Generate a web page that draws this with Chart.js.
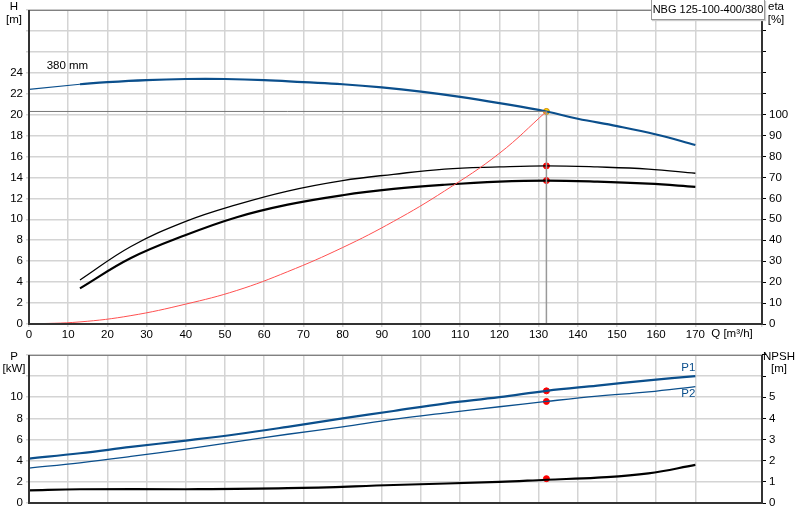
<!DOCTYPE html>
<html><head><meta charset="utf-8">
<script src="https://cdn.jsdelivr.net/npm/chart.js@4/dist/chart.umd.min.js"></script>
<style>
body{margin:0;background:#fff;width:800px;height:520px;overflow:hidden;font-family:"Liberation Sans",Arial,sans-serif}
#c1{position:absolute;left:0;top:0}
#c2{position:absolute;left:0;top:345px}
#tb{position:absolute;left:651px;top:0;width:112px;height:19px;border:1px solid #999;border-top:none;background:#fff;font-size:11px;line-height:19px;text-align:center;white-space:nowrap;box-shadow:1px 1px 1px #ccc}
</style></head><body>
<canvas id="c1" width="800" height="345"></canvas>
<canvas id="c2" width="800" height="175"></canvas>
<div id="tb">NBG 125-100-400/380</div>
<script>
const qH = [0,13,20,30,40,50,60,70,80,90,100,110,120,132,140,150,160,170];
const hVals = [22.4,22.9,23.1,23.3,23.4,23.4,23.3,23.1,22.9,22.6,22.2,21.7,21.1,20.3,19.6,18.9,18.1,17.1];
const qEta = [13,26,40,53,66,80,93,106,120,132,145,158,170];
const etaUpper = [21,37,49,57,63.5,68.5,71.5,74,75,75.5,75,74,72];
const etaLower = [17,31.5,42.5,51,57,61.5,64.5,66.5,68,68.5,68,67,65.5];
const qSys = [0,13,26,40,53,66,80,93,106,120,132];
const hSys = [0,0.2,0.8,1.9,3.2,5.0,7.3,9.8,12.7,16.3,20.3];
const dutyQ = 132, dutyH = 20.3, dutyEtaU = 75.5, dutyEtaL = 68.5;
const qP = [0,13,26,40,53,66,80,93,106,120,132,145,158,170];
const p1 = [4.2,4.7,5.3,5.9,6.5,7.2,8.0,8.7,9.4,10.0,10.6,11.1,11.6,12.0];
const p2 = [3.3,3.8,4.4,5.1,5.8,6.5,7.2,7.9,8.5,9.1,9.6,10.1,10.5,11.0];
const qN = [0,13,40,66,93,120,132,145,158,170];
const npsh = [0.6,0.65,0.65,0.7,0.85,1.0,1.1,1.2,1.4,1.8];
const dutyP1 = 10.6, dutyP2 = 9.6, dutyN = 1.15;

const BLUE='#0b4f8c', GRID='#d4d4d4', FONT={family:'"Liberation Sans",Arial,sans-serif',size:11.5};
Chart.defaults.font = FONT; Chart.defaults.color='#000';
const pts=(xs,ys)=>xs.map((x,i)=>({x,y:ys[i]}));
const line=(data,color,w,axis,extra)=>Object.assign({type:'line',data,borderColor:color,borderWidth:w,pointRadius:0,tension:0.4,fill:false,yAxisID:axis},extra||{});
const dot=(x,y,axis,color)=>({type:'scatter',data:[{x,y}],yAxisID:axis,pointRadius:3,pointBackgroundColor:color,pointBorderColor:color==='#ffe000'?'#d08000':'red',pointBorderWidth:1});
const fixW=w=>(s=>{s.width=w;});
const frame={id:'frame',afterDraw(c,a,o){const ctx=c.ctx,ca=c.chartArea;ctx.save();
 ctx.strokeStyle='#777';ctx.lineWidth=1;ctx.strokeRect(ca.left,ca.top+0.5,ca.right-ca.left,ca.bottom-ca.top);
 ctx.strokeStyle='#333';ctx.lineWidth=2;ctx.beginPath();ctx.moveTo(ca.left,ca.top);ctx.lineTo(ca.left,ca.bottom);ctx.lineTo(ca.right,ca.bottom);ctx.moveTo(ca.right,ca.top);ctx.lineTo(ca.right,ca.bottom);ctx.stroke();
 ctx.font='11.5px "Liberation Sans",Arial';
 (o.texts||[]).forEach(t=>{ctx.fillStyle=t.c||'#000';let x=t.q!==undefined?c.scales.x.getPixelForValue(t.q):t.x;let y=t.v!==undefined?c.scales[t.ax].getPixelForValue(t.v):t.y;ctx.textAlign=t.al||'center';ctx.fillText(t.s,x,y);});
 ctx.restore();}};

new Chart(document.getElementById('c1'),{
 data:{datasets:[
  line(pts([0,dutyQ],[dutyH,dutyH]),'#777',1,'y',{tension:0}),
  line(pts([dutyQ,dutyQ],[0,dutyH]),'#999',1.5,'y',{tension:0}),
  line(pts(qSys,hSys),'#ff5050',1,'y'),
  line(pts(qH.slice(0,2),hVals.slice(0,2)),BLUE,1.2,'y',{tension:0}),
  line(pts(qH.slice(1),hVals.slice(1)),BLUE,2.2,'y'),
  line(pts(qEta,etaUpper),'#000',1.3,'eta'),
  line(pts(qEta,etaLower),'#000',2.2,'eta'),
  dot(dutyQ,dutyEtaU,'eta','red'),dot(dutyQ,dutyEtaL,'eta','red'),
  dot(dutyQ,dutyH,'y','#ffe000')
 ]},
 options:{animation:false,responsive:false,events:[],layout:{padding:{top:-9,bottom:0,left:0,right:0}},
  plugins:{legend:{display:false},tooltip:{enabled:false},frame:{texts:[
   {s:'380 mm',q:4.5,v:24.4,ax:'y',al:'left'},{s:'H',x:14,y:10},{s:'[m]',x:14,y:23},{s:'eta',x:776,y:10},{s:'[%]',x:776,y:23},
   {s:'Q [m³/h]',x:732,y:337}]}},
  scales:{
   x:{type:'linear',min:0,max:187,afterFit:s=>{s.height=21;},ticks:{stepSize:10,autoSkip:false,maxRotation:0,padding:1,callback:v=>(v<=170&&v%10===0?v:'')},grid:{color:GRID,lineWidth:1.5,tickLength:3},border:{display:false}},
   y:{min:0,max:30,afterFit:fixW(29),ticks:{stepSize:2,padding:3,callback:v=>v<=24?v:''},grid:{color:GRID,lineWidth:1.5,tickLength:3},border:{display:false}},
   eta:{position:'right',min:0,max:30*5,afterFit:fixW(38),ticks:{stepSize:10,padding:3,callback:v=>v<=100?v:''},grid:{drawOnChartArea:false,tickLength:4,color:'#000'},border:{display:false}}
  }},
 plugins:[frame]});

new Chart(document.getElementById('c2'),{
 data:{datasets:[
  line(pts(qP,p1),BLUE,2.2,'y'),
  line(pts(qP,p2),BLUE,1.3,'y'),
  line(pts(qN,npsh),'#000',2.2,'n'),
  dot(dutyQ,dutyP1,'y','red'),dot(dutyQ,dutyP2,'y','red'),dot(dutyQ,dutyN,'n','red')
 ]},
 options:{animation:false,responsive:false,events:[],layout:{padding:{top:0,bottom:0}},
  plugins:{legend:{display:false},tooltip:{enabled:false},frame:{texts:[
   {s:'P1',q:170,v:12.5,ax:'y',c:BLUE,al:'right'},{s:'P2',q:170,v:10.0,ax:'y',c:BLUE,al:'right'},
   {s:'P',x:14,y:15},{s:'[kW]',x:14,y:27},{s:'NPSH',x:779,y:15},{s:'[m]',x:779,y:27}]}},
  scales:{
   x:{type:'linear',min:0,max:187,afterFit:s=>{s.height=17;},ticks:{stepSize:10,display:false},grid:{color:GRID,lineWidth:1.5,tickLength:0},border:{display:false}},
   y:{min:0,max:14,afterFit:fixW(29),ticks:{stepSize:2,padding:3,callback:v=>v<=10?v:''},grid:{color:GRID,lineWidth:1.5,tickLength:3},border:{display:false}},
   n:{position:'right',min:0,max:7,afterFit:fixW(38),ticks:{stepSize:1,padding:3,callback:v=>v<=5?v:''},grid:{drawOnChartArea:false,tickLength:4,color:'#000'},border:{display:false}}
  }},
 plugins:[frame]});
</script></body></html>
